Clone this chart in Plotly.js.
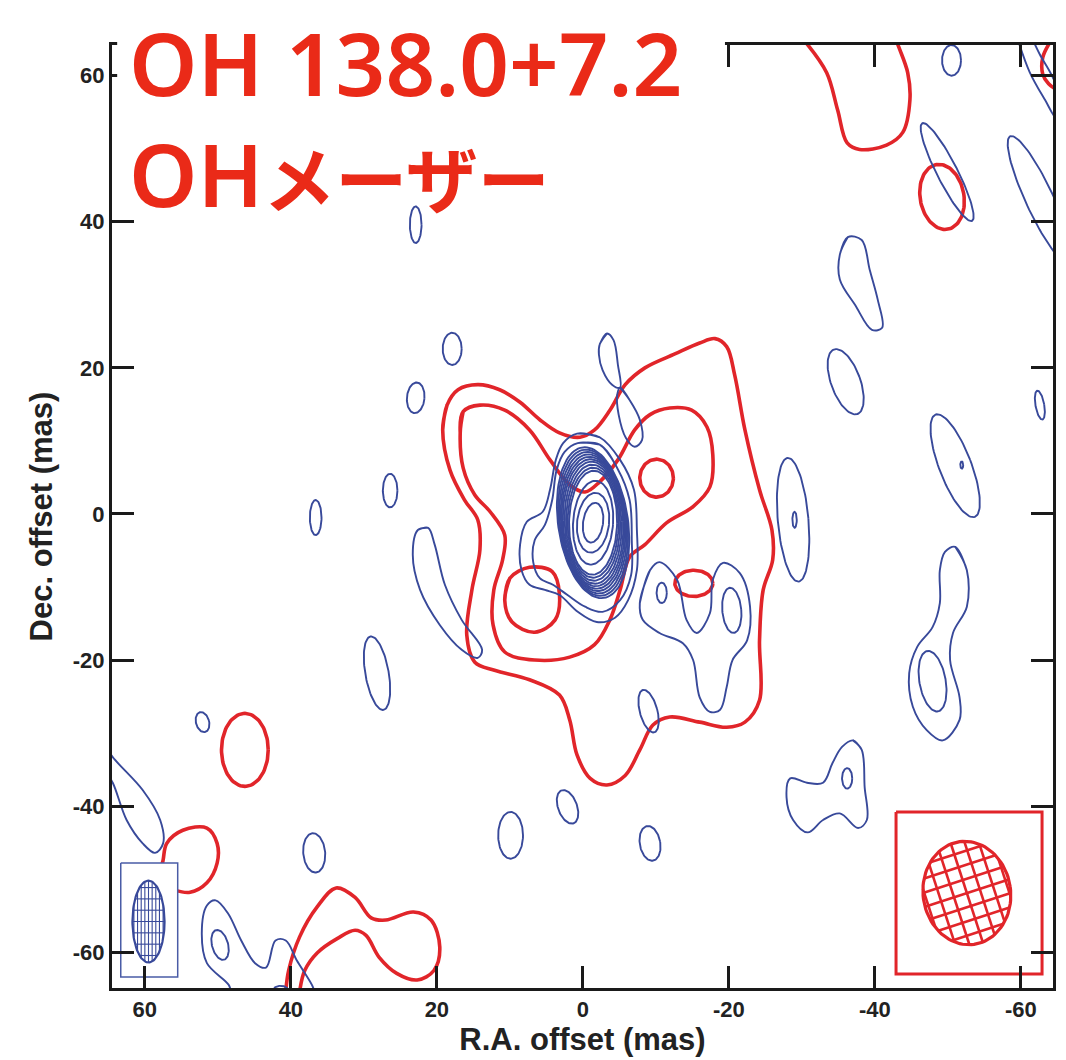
<!DOCTYPE html>
<html><head><meta charset="utf-8">
<script src="https://cdn.plot.ly/plotly-3.0.1.min.js"></script>
<style>html,body{margin:0;padding:0;background:#fff}#chart{width:1066px;height:1060px}</style>
</head><body><div id="chart"></div>
<script>
// ---------- styling constants ----------
const RED = '#e1252a';
const BLUE = '#38499a';
const TITLE_RED = '#ea2a18';
const AXIS = '#1a1a1a';

// ---------- axis ticks ----------
const xTicks = [60, 40, 20, 0, -20, -40, -60];
const yTicks = [60, 40, 20, 0, -20, -40, -60];

// ---------- titles ----------
const titleLine1 = 'OH 138.0+7.2';
const titleLine2a = 'OH';
const titleLine2b = 'メーザー';
const xTitle = 'R.A. offset (mas)';
const yTitle = 'Dec. offset (mas)';

// ---------- red contours: [RA offset, Dec offset] (mas) ----------
const redOuter = [[19.2,11.5],[18.6,14.9],[17.1,17.0],[14.4,17.7],[11.4,17.0],[8.6,15.3],[5.9,12.9],[3.2,11.1],[0.4,10.5],[-1.6,11.5],[-3.7,14.2],[-5.8,17.7],[-8.5,20.0],[-12.6,21.9],[-16.0,23.4],[-18.1,24.0],[-19.7,22.9],[-20.8,19.0],[-22.2,11.5],[-24.2,3.3],[-25.9,-2.2],[-26.0,-6.3],[-24.7,-10.4],[-24.2,-17.3],[-24.2,-25.5],[-22.2,-28.5],[-19.7,-29.2],[-16.0,-28.5],[-11.9,-27.8],[-9.6,-28.9],[-7.8,-32.3],[-5.8,-35.8],[-3.3,-37.1],[-1.0,-36.2],[0.8,-33.0],[1.8,-28.2],[3.2,-24.8],[7.3,-22.7],[12.1,-21.4],[14.8,-20.3],[15.9,-16.6],[15.2,-10.4],[14.1,-4.9],[14.4,-0.8],[16.2,1.9],[18.2,6.0],[19.2,11.5],[18.6,14.9]];
const redMiddle = [[16.8,11.1],[16.4,14.0],[14.1,14.9],[10.7,14.2],[7.3,11.5],[4.5,7.4],[1.8,4.0],[-0.3,3.0],[-2.3,4.4],[-4.8,7.4],[-7.1,11.5],[-9.2,13.6],[-11.9,14.5],[-14.9,14.2],[-17.0,11.9],[-17.8,8.1],[-17.4,3.7],[-15.1,1.0],[-11.5,-1.2],[-8.5,-4.2],[-6.4,-5.9],[-5.1,-10.4],[-3.7,-14.5],[-1.6,-17.9],[1.8,-19.6],[6.6,-20.0],[10.7,-18.9],[12.3,-15.2],[12.2,-10.4],[11.0,-6.3],[10.7,-2.9],[12.7,0.3],[14.8,2.6],[16.4,6.3],[16.8,11.1],[16.4,14.0]];
const redInnerSW = [[10.7,-11.8],[10.0,-8.8],[7.3,-7.3],[4.2,-7.9],[3.2,-11.1],[3.8,-14.5],[6.6,-16.2],[9.7,-14.8],[10.7,-11.8],[10.0,-8.8]];
const redTopU = [[-30.5,64.6],[-33.4,60.4],[-34.9,55.3],[-36.2,50.8],[-37.9,49.9],[-41.6,50.5],[-43.8,52.2],[-44.8,56.7],[-44.5,60.4],[-43.4,63.6],[-43.0,64.6]];
const redCorner = [[-64.0,64.6],[-63.0,62.5],[-63.0,60.2],[-63.8,58.9],[-65.0,58.0]];
const redLeftLoop = [[57.9,-49.5],[57.5,-47.4],[57.0,-45.1],[54.8,-43.3],[51.5,-43.0],[50.1,-45.1],[50.1,-47.8],[51.5,-50.5],[53.8,-51.8],[55.9,-51.5],[57.3,-50.8],[57.9,-49.5],[57.5,-47.4]];
const redBottom = [[40.7,-65.4],[40.3,-62.5],[38.8,-57.9],[36.4,-53.8],[33.8,-51.2],[31.2,-52.5],[29.0,-55.3],[27.0,-55.6],[23.2,-54.5],[20.8,-55.6],[19.6,-59.3],[20.4,-62.5],[22.7,-63.8],[25.5,-62.9],[27.9,-60.7],[29.7,-57.7],[31.2,-57.0],[33.6,-58.1],[36.4,-60.1],[38.1,-62.5],[38.8,-65.4]];
// red oval contours: [RA centre, Dec centre, semi-axis E-W, semi-axis N-S, tilt deg]
const redOvals = [[-10.1,4.9,2.3,2.6,0],[-15.2,-9.5,2.6,1.8,0],[-49.2,43.4,3.0,4.5,-10],[46.3,-32.3,3.2,5.0,0]];

// ---------- blue contours ----------
const blueCore1 = [[0.8,11.0],[-2.3,10.5],[-5.1,7.4],[-7.0,3.3],[-7.4,-2.2],[-7.4,-7.7],[-6.2,-11.8],[-4.4,-14.2],[-1.9,-14.8],[0.7,-13.4],[3.2,-11.1],[5.2,-10.4],[7.3,-9.7],[8.4,-7.7],[8.6,-4.2],[7.7,-1.1],[5.5,0.3],[4.5,3.3],[3.7,7.4],[2.7,9.7],[0.8,11.0],[-2.3,10.5]];
const blueCore2 = [[0.7,9.7],[-2.3,9.5],[-4.7,6.3],[-6.4,1.9],[-6.7,-3.6],[-6.6,-8.4],[-5.1,-11.8],[-2.7,-13.4],[-0.3,-12.7],[2.1,-11.1],[4.1,-9.7],[5.9,-8.8],[6.8,-6.6],[6.6,-3.6],[5.2,-1.5],[4.2,1.9],[3.6,6.0],[2.5,8.5],[0.7,9.7],[-2.3,9.5]];
// concentric core rings
const coreCentre = [-1.4, -1.2];
const coreSemiEW = [1.37,2.19,2.74,3.29,3.49,3.70,3.90,4.11,4.25,4.38,4.52,4.66,4.79];
const coreSemiNS = [2.74,4.11,5.75,7.12,7.53,7.95,8.36,8.70,9.04,9.38,9.73,10.07,10.41];
const coreTilt   = [8,6,4,1,0,-1,-2,-3,-4,-5,-6,-7,-8];

const blueFig8a = [[-2.3,23.2],[-3.3,24.7],[-4.2,23.8],[-4.8,20.4],[-5.1,17.3],[-4.0,17.7],[-2.7,19.7],[-2.2,21.8],[-2.3,23.2],[-3.3,24.7]];
const blueFig8b = [[-5.1,17.3],[-6.4,15.6],[-7.8,12.9],[-8.1,10.1],[-7.1,9.2],[-5.9,10.4],[-4.9,13.6],[-4.7,16.3],[-5.1,17.3],[-6.4,15.6]];
const blueTear = [[-35.2,35.5],[-36.3,37.9],[-38.2,37.5],[-39.3,33.4],[-40.4,29.3],[-41.0,25.5],[-39.6,25.2],[-37.3,28.6],[-35.2,32.1],[-35.2,35.5],[-36.3,37.9]];
const blueCorner = [[-59.4,65.5],[-61.2,60.5],[-63.3,56.7],[-64.9,54.2],[-65.6,56.7],[-64.2,60.1],[-62.6,62.9],[-61.5,65.2]];
const blueNeck = [[-51.0,-4.5],[-52.6,-7.7],[-52.6,-12.7],[-50.7,-16.3],[-50.3,-20.0],[-51.6,-25.1],[-51.6,-28.2],[-49.3,-31.0],[-47.1,-29.6],[-45.2,-26.4],[-44.7,-21.8],[-45.8,-18.2],[-47.9,-15.5],[-48.9,-12.2],[-48.9,-7.7],[-49.6,-5.2],[-51.0,-4.5],[-52.6,-7.7]];
const blueLowRight = [[-37.0,-31.0],[-38.2,-32.3],[-38.6,-37.4],[-38.9,-41.9],[-37.7,-43.0],[-35.2,-41.0],[-32.9,-41.9],[-30.8,-43.6],[-28.8,-41.9],[-27.9,-38.8],[-28.4,-36.2],[-30.7,-36.8],[-32.9,-36.8],[-34.2,-34.1],[-35.5,-31.9],[-37.0,-31.0],[-38.2,-32.3]];
const blueW = [[-7.8,-12.2],[-9.2,-7.7],[-10.5,-6.6],[-12.9,-9.0],[-14.2,-14.5],[-15.6,-16.3],[-17.4,-13.6],[-17.8,-9.0],[-19.2,-6.7],[-21.5,-8.1],[-22.9,-12.7],[-22.5,-17.3],[-20.5,-20.0],[-19.7,-23.7],[-18.8,-26.8],[-17.4,-27.1],[-16.0,-25.1],[-15.1,-20.0],[-13.7,-17.7],[-10.5,-16.3],[-8.2,-14.5],[-7.8,-12.2],[-9.2,-7.7]];
const blueLeftLong = [[22.6,-2.2],[21.2,-1.9],[20.3,-4.2],[18.9,-9.7],[16.6,-14.5],[13.8,-18.6],[14.4,-19.7],[16.6,-18.6],[19.6,-15.2],[22.3,-10.4],[23.3,-5.6],[22.6,-2.2],[21.2,-1.9]];
const blueLeftEdge = [[65.5,-31.6],[64.4,-33.3],[60.3,-37.8],[57.9,-41.9],[57.5,-45.1],[58.6,-46.4],[60.3,-45.1],[62.5,-41.9],[64.4,-36.8],[65.5,-35.1]];
const blueBottomLeft = [[48.2,-65.6],[48.5,-64.5],[51.5,-61.5],[52.2,-57.4],[51.5,-53.6],[50.3,-52.9],[48.6,-54.7],[46.8,-58.4],[44.9,-61.5],[43.4,-62.1],[42.1,-58.4],[40.7,-58.4],[39.2,-61.1],[37.1,-64.5],[36.7,-65.6]];
// blue oval contours: [RA centre, Dec centre, semi EW, semi NS, tilt deg]
const blueOvals = [
  [17.9,22.6,1.3,2.2,0],[22.9,15.9,1.2,2.1,5],[22.9,39.6,0.8,2.5,0],[26.4,3.2,1.0,2.3,0],
  [36.6,-0.5,0.8,2.4,0],[52.1,-28.5,0.9,1.4,-15],[36.8,-46.4,1.5,2.7,-5],[9.9,-44.0,1.7,3.2,0],
  [2.1,-40.1,1.3,2.4,-20],[-9.2,-45.1,1.4,2.4,-10],[-9.0,-27.0,1.2,3.0,-15],[28.2,-21.8,1.6,5.1,-10],
  [-50.5,62.1,1.3,2.1,0],[-49.9,46.8,1.4,7.5,-27],[-62.6,43.0,1.9,9.6,-25],[-36.0,18.1,2.0,4.7,-20],
  [-62.6,14.9,0.6,2.0,-10],[-51.0,6.6,2.2,7.5,-21],[-51.9,6.7,0.2,0.5,0],[-28.8,-0.8,2.1,8.5,-5],
  [-29.0,-0.8,0.3,1.1,0],[-47.9,-22.9,1.8,4.2,-10],[-36.2,-36.2,0.7,1.4,0],[-10.8,-10.8,0.7,1.4,0],
  [-20.4,-13.2,1.3,3.1,-5],[49.7,-59.0,1.1,2.1,-15],[41.4,-65.2,1.0,0.6,0]
];

// ---------- synthesized beams ----------
// beam: [RA centre, Dec centre, semi EW, semi NS, tilt]; box: [RA1, RA2, Dec1, Dec2]
const blueBeam = [59.5,-55.8,2.2,5.6,0];
const blueBeamBox = [63.3,55.5,-47.8,-63.4];
const blueHatch = [[90,0.5],[0,1.55]];     // [direction deg, spacing mas]
const redBeam = [-52.6,-51.9,6.0,7.1,-8];
const redBeamBox = [-42.9,-62.9,-40.8,-63.0];
const redHatch = [[18,1.85],[108,1.85]];

// ---------- helpers ----------
const traces = [];
function addPath(pts, color, width, shape) {
  traces.push({type:'scatter', mode:'lines', x:pts.map(p=>p[0]), y:pts.map(p=>p[1]),
    line:{color:color, width:width, shape:shape||'spline', smoothing:1}, hoverinfo:'skip', showlegend:false});
}
function ellipsePts(e, n) {
  const [cx, cy, a, b, tiltDeg] = e; n = n || 96;
  const t = tiltDeg*Math.PI/180, pts = [];
  for (let i = 0; i <= n; i++) {
    const u = 2*Math.PI*i/n;
    const du = a*Math.cos(u)*Math.cos(t) + b*Math.sin(u)*Math.sin(t);
    const dv = -a*Math.cos(u)*Math.sin(t) + b*Math.sin(u)*Math.cos(t);
    pts.push([cx - du, cy + dv]);
  }
  return pts;
}
function hatchLines(e, dirDeg, spacing) {
  const [cx, cy, a, b, tiltDeg] = e;
  const t = tiltDeg*Math.PI/180, th = dirDeg*Math.PI/180;
  const dx = Math.cos(th), dy = Math.sin(th), nx = -Math.sin(th), ny = Math.cos(th);
  const toL = (du, dv) => [du*Math.cos(t) - dv*Math.sin(t), du*Math.sin(t) + dv*Math.cos(t)];
  const xs = [], ys = [], R = Math.max(a, b);
  for (let k = -Math.ceil(R/spacing); k <= Math.ceil(R/spacing); k++) {
    const s = k*spacing;
    const [al, ga] = toL(s*nx, s*ny);
    const [be, de] = toL(dx, dy);
    const A = be*be/(a*a) + de*de/(b*b);
    const B = 2*(al*be/(a*a) + ga*de/(b*b));
    const C = al*al/(a*a) + ga*ga/(b*b) - 1;
    const disc = B*B - 4*A*C;
    if (disc <= 0) continue;
    const t1 = (-B - Math.sqrt(disc))/(2*A), t2 = (-B + Math.sqrt(disc))/(2*A);
    [t1, t2].forEach(tau => { xs.push(cx - (s*nx + tau*dx)); ys.push(cy + (s*ny + tau*dy)); });
    xs.push(null); ys.push(null);
  }
  return {xs, ys};
}
function addBox(box, color, width) {
  const [x1, x2, y1, y2] = box;
  traces.push({type:'scatter', mode:'lines', x:[x1,x2,x2,x1,x1], y:[y1,y1,y2,y2,y1], fill:'toself',
    fillcolor:'#ffffff', line:{color:color, width:width}, hoverinfo:'skip', showlegend:false});
}
function addBeam(beam, hatch, color, outlineW, hatchW) {
  hatch.forEach(([d, sp]) => {
    const h = hatchLines(beam, d, sp);
    traces.push({type:'scatter', mode:'lines', x:h.xs, y:h.ys, connectgaps:false,
      line:{color:color, width:hatchW}, hoverinfo:'skip', showlegend:false});
  });
  addPath(ellipsePts(beam), color, outlineW, 'linear');
}

// ---------- build: red first, then blue over it ----------
[redOuter, redMiddle, redInnerSW, redTopU, redCorner, redLeftLoop, redBottom].forEach(p => addPath(p, RED, 3.6));
redOvals.forEach(o => addPath(ellipsePts(o), RED, 3.6, 'linear'));

[blueCore1, blueCore2, blueFig8a, blueFig8b, blueTear, blueCorner, blueNeck, blueLowRight, blueW,
 blueLeftLong, blueLeftEdge, blueBottomLeft].forEach(p => addPath(p, BLUE, 1.9));
blueOvals.forEach(o => addPath(ellipsePts(o), BLUE, 1.9, 'linear'));
coreSemiEW.forEach((a, i) => addPath(ellipsePts([coreCentre[0], coreCentre[1], a, coreSemiNS[i], coreTilt[i]]), BLUE, 1.9, 'linear'));

addBox(blueBeamBox, '#4a5ca6', 1.5);
addBeam(blueBeam, blueHatch, BLUE, 2.2, 1.1);
addBox(redBeamBox, RED, 3);
addBeam(redBeam, redHatch, RED, 3.2, 2.6);

// ---------- layout ----------
const tickFont = {family:'Liberation Sans, Arial, sans-serif', size:22, color:'#222', weight:'bold'};
const titleFont = {family:'Liberation Sans, Arial, sans-serif', size:31, color:'#222', weight:'bold'};
const bigFont = {family:'Noto Sans, Noto Sans CJK JP, sans-serif', size:87, color:TITLE_RED, weight:600};
const axisCommon = {ticks:'inside', ticklen:22, tickwidth:3, tickcolor:AXIS, showline:true, linewidth:3,
  linecolor:AXIS, mirror:'ticks', showgrid:false, zeroline:false, tickfont:tickFont};
const layout = {
  width:1066, height:1060,
  margin:{l:112, r:13, t:45, b:72, pad:0},
  paper_bgcolor:'#ffffff', plot_bgcolor:'#ffffff', showlegend:false,
  xaxis:Object.assign({}, axisCommon, {range:[64.5,-64.4], tickvals:xTicks, ticktext:xTicks.map(String),
    title:{text:xTitle, font:titleFont, standoff:6}}),
  yaxis:Object.assign({}, axisCommon, {range:[-64.9,64.2], tickvals:yTicks, ticktext:yTicks.map(String),
    title:{text:yTitle, font:titleFont, standoff:11}}),
  shapes:[{type:'rect', xref:'paper', yref:'paper', x0:0.0055, x1:0.6514, y0:0.842, y1:1.05,
    fillcolor:'#ffffff', line:{width:0}, layer:'above'}],
  annotations:[
    {xref:'paper', yref:'paper', x:0.016, y:1.047, xanchor:'left', yanchor:'top', showarrow:false,
      text:titleLine1, font:bigFont},
    {xref:'paper', yref:'paper', x:0.016, y:0.929, xanchor:'left', yanchor:'top', showarrow:false,
      text:titleLine2a + '<span style="font-size:72px">' + titleLine2b + '</span>', font:bigFont}
  ]
};
Plotly.newPlot('chart', traces, layout, {staticPlot:true, displayModeBar:false});
</script>
</body></html>
